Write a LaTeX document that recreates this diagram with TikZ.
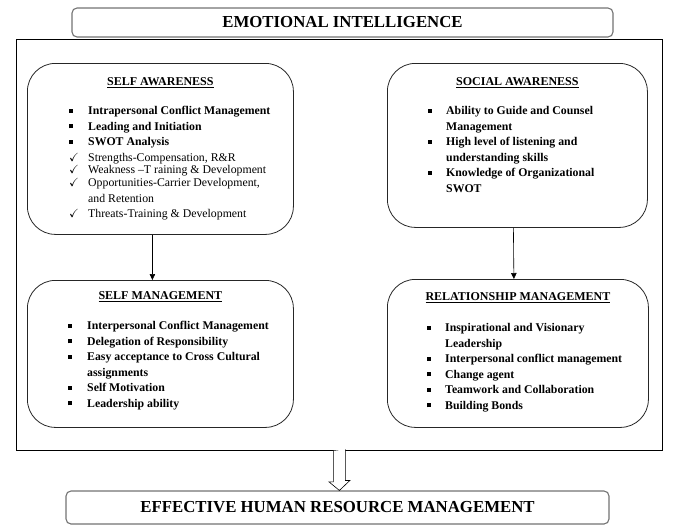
\documentclass[tikz,border=0pt]{standalone}
\usepackage{amsmath, amssymb}
\usepackage{fontspec}
\setmainfont{Liberation Serif}
\usepackage{tikz}
\usetikzlibrary{arrows.meta, positioning, calc}

\newcommand{\sqbul}{\rule[1.8pt]{3.8pt}{3.8pt}}
\newcommand{\chk}{$\checkmark$}

\begin{document}
\begin{tikzpicture}[
  x=1pt, y=-1pt,
  every node/.style={font=\small},
  headbox/.style={draw=black!55, line width=1.1pt, rounded corners=5pt, fill=white,
    font=\fontsize{16.8}{19}\selectfont\bfseries},
  areabox/.style={draw=black!85, line width=0.8pt, rounded corners=28pt, anchor=north west},
  heading/.style={font=\fontsize{12}{14}\selectfont\bfseries},
  itemlist/.style={anchor=north west, inner sep=0pt, align=left,
    font=\fontsize{11.8}{15.5}\selectfont},
  arr/.style={-{Triangle[length=6pt,width=5.5pt]}, line width=0.6pt}
]
  \useasboundingbox (0,0) rectangle (686,531);

  % outer frame and headline boxes
  \node[draw, line width=0.8pt, minimum width=646pt, minimum height=411pt,
    anchor=north west, inner sep=0pt] (frame) at (16,39) {};
  \node[headbox, minimum width=541pt, minimum height=29pt] (ei) at (342.5,22.5)
    {EMOTIONAL INTELLIGENCE};
  \node[headbox, minimum width=543pt, minimum height=33pt] (hrm) at (337.5,507.5)
    {EFFECTIVE HUMAN RESOURCE MANAGEMENT};

  % the four areas
  \node[areabox, minimum width=266pt, minimum height=171pt] (selfaw) at (27,63) {};
  \node[areabox, minimum width=260pt, minimum height=164pt] (socaw) at (387,63) {};
  \node[areabox, minimum width=266pt, minimum height=147pt] (selfmg) at (27,280) {};
  \node[areabox, minimum width=261pt, minimum height=148pt] (relmg) at (387,279) {};

  \node[heading] (selfawt) at ([yshift=-20pt]selfaw.north) {\underline{SELF AWARENESS}};
  \node[heading] (socawt) at ([yshift=-20pt]socaw.north) {\underline{SOCIAL AWARENESS}};
  \node[heading] (selfmgt) at ([yshift=-17pt]selfmg.north) {\underline{SELF MANAGEMENT}};
  \node[heading] (relmgt) at ([yshift=-19pt]relmg.north) {\underline{RELATIONSHIP MANAGEMENT}};

  \node[itemlist] (selfawl) at (69,103.5) {%
    \begin{tabular}{@{}p{19pt}@{}p{200pt}@{}}
      \sqbul & \bfseries Intrapersonal Conflict Management\\
      \sqbul & \bfseries Leading and Initiation\\
      \sqbul & \bfseries SWOT Analysis\\
      \chk & Strengths-Compensation, R\&R\\[-3pt]
      \chk & Weakness --T raining \& Development\\[-2.5pt]
      \chk & Opportunities-Carrier Development,\newline and Retention\\
      \chk & Threats-Training \& Development
    \end{tabular}};
  \node[itemlist] (socawl) at (428,103.5) {%
    \begin{tabular}{@{}p{18pt}@{}p{190pt}@{}}
      \sqbul & \bfseries Ability to Guide and Counsel\newline Management\\
      \sqbul & \bfseries High level of listening and\newline understanding skills\\
      \sqbul & \bfseries Knowledge of Organizational\newline SWOT
    \end{tabular}};
  \node[itemlist] (selfmgl) at (68,318.5) {%
    \begin{tabular}{@{}p{19pt}@{}p{200pt}@{}}
      \sqbul & \bfseries Interpersonal Conflict Management\\
      \sqbul & \bfseries Delegation of Responsibility\\
      \sqbul & \bfseries Easy acceptance to Cross Cultural\newline assignments\\
      \sqbul & \bfseries Self Motivation\\
      \sqbul & \bfseries Leadership ability
    \end{tabular}};
  \node[itemlist] (relmgl) at (427,320.5) {%
    \begin{tabular}{@{}p{18pt}@{}p{200pt}@{}}
      \sqbul & \bfseries Inspirational and Visionary\newline Leadership\\
      \sqbul & \bfseries Interpersonal conflict management\\
      \sqbul & \bfseries Change agent\\
      \sqbul & \bfseries Teamwork and Collaboration\\
      \sqbul & \bfseries Building Bonds
    \end{tabular}};

  % connectors
  \draw[arr] ([xshift=-8pt]selfaw.south) -- ([xshift=-8pt]selfmg.north);
  \draw[arr] ([xshift=-4pt]socaw.south) -- ([xshift=-4pt]relmg.north);
  \coordinate (hrmtip) at (hrm.north -| frame.south);
  \draw[line width=0.6pt, fill=white] (frame.south) ++(-6,0) -- ++(0,31) -- ++(-4.5,0)
    -- (hrmtip) -- ++(10.5,-10) -- ++(-4.5,0) -- ++(0,-31);
\end{tikzpicture}
\end{document}
